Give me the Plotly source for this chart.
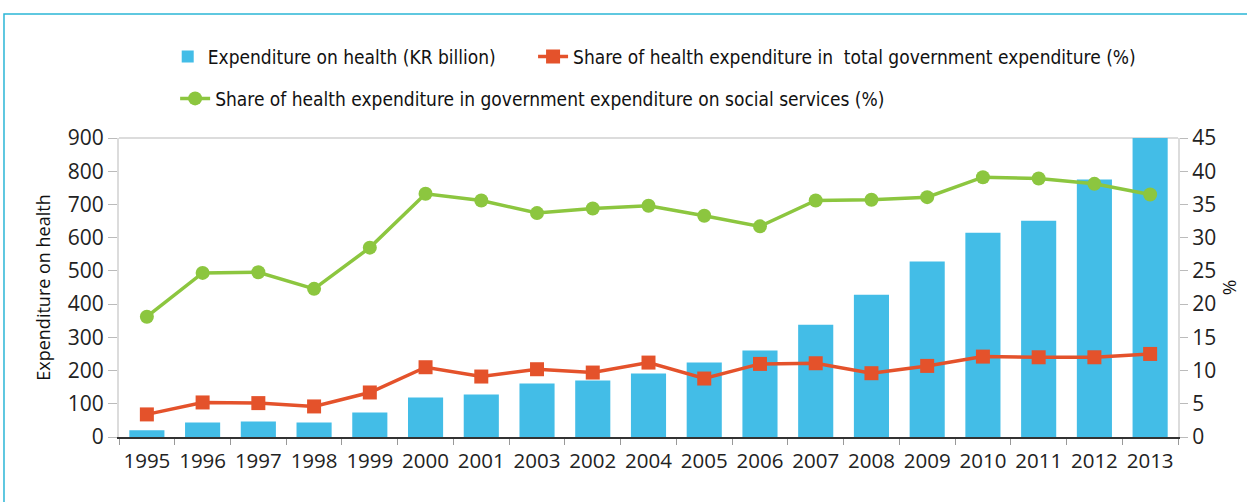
import plotly.graph_objects as go

years = ["1995", "1996", "1997", "1998", "1999", "2000", "2001", "2003", "2002", "2004",
         "2005", "2006", "2007", "2008", "2009", "2010", "2011", "2012", "2013"]
expenditure = [20, 44, 47, 44, 74, 119, 128, 161, 170, 191, 224, 260, 338, 428, 528, 615, 651, 775, 900]
share_total = [3.4, 5.2, 5.1, 4.6, 6.7, 10.5, 9.1, 10.2, 9.7, 11.2, 8.8, 11.0, 11.1, 9.6, 10.7, 12.1, 12.0, 12.0, 12.5]
share_social = [18.1, 24.7, 24.8, 22.3, 28.5, 36.6, 35.6, 33.7, 34.4, 34.8, 33.3, 31.7, 35.6, 35.7, 36.1, 39.1, 38.9, 38.1, 36.5]

BLUE = "#43BDE7"
RED = "#E4522B"
GREEN = "#8CC63F"
FONT = "Open Sans"
LEGFONT = "DejaVu Sans Condensed, Open Sans"

fig = go.Figure()
fig.add_trace(go.Bar(x=years, y=expenditure, name="Expenditure on health (KR billion)",
                     marker=dict(color=BLUE, line=dict(width=0)), legend="legend"))
fig.add_trace(go.Scatter(x=years, y=share_total, yaxis="y2", mode="lines+markers",
                         name="Share of health expenditure in  total government expenditure (%)",
                         line=dict(color=RED, width=3.5),
                         marker=dict(symbol="square", size=14, color=RED), legend="legend2"))
fig.add_trace(go.Scatter(x=years, y=share_social, yaxis="y2", mode="lines+markers",
                         name="Share of health expenditure in government expenditure on social services (%)",
                         line=dict(color=GREEN, width=3.5),
                         marker=dict(symbol="circle", size=14, color=GREEN), legend="legend3"))

legfont = dict(family=LEGFONT, size=19, color="#111")
fig.update_layout(
    width=1247, height=502,
    margin=dict(l=119, r=69, t=138, b=65),
    paper_bgcolor="white", plot_bgcolor="white",
    font=dict(family=FONT, size=20, color="#222"),
    bargap=0.37,
    showlegend=True,
    legend=dict(orientation="h", x=0.046, y=1.272, xanchor="left", yanchor="middle",
                font=legfont, bgcolor="rgba(0,0,0,0)"),
    legend2=dict(orientation="h", x=0.391, y=1.272, xanchor="left", yanchor="middle",
                 font=legfont, bgcolor="rgba(0,0,0,0)"),
    legend3=dict(orientation="h", x=0.053, y=1.132, xanchor="left", yanchor="middle",
                 font=legfont, bgcolor="rgba(0,0,0,0)"),
    xaxis=dict(type="category", range=[-0.5, len(years) - 0.5], tickson="boundaries",
               ticks="outside", ticklen=6, ticklabelstandoff=4,
               tickcolor="#999", showline=True, linecolor="#333", linewidth=2,
               showgrid=False, tickangle=0, automargin=False,
               tickfont=dict(size=20.5, color="#222")),
    yaxis=dict(range=[0, 900], dtick=100, showgrid=False, zeroline=False,
               showline=True, linecolor="#dcdcdc", linewidth=2, automargin=False,
               ticks="outside", ticklen=9, tickcolor="#bbb",
               title=dict(text="Expenditure on health", font=dict(size=18, color="#111"), standoff=12),
               tickfont=dict(size=21, color="#222")),
    yaxis2=dict(range=[0, 45], dtick=5, overlaying="y", side="right", showgrid=False,
                zeroline=False, showline=True, linecolor="#dcdcdc", linewidth=2, automargin=False,
                ticks="outside", ticklen=8, tickcolor="#bbb",
                title=dict(text="%", font=dict(size=19, color="#111"), standoff=4),
                tickfont=dict(size=21, color="#222")),
    shapes=[
        dict(type="line", xref="paper", yref="paper", x0=0, x1=1, y0=1, y1=1,
             line=dict(color="#dcdcdc", width=2), layer="below"),
        dict(type="rect", xref="paper", yref="paper", x0=-0.1086, x1=1.2, y0=-0.5, y1=1.4147,
             line=dict(color="#2BB6D6", width=1.5), fillcolor="rgba(0,0,0,0)"),
    ],
)

fig.write_html("out.html", config={"displayModeBar": False},
               post_script="document.body.style.margin='0';")
